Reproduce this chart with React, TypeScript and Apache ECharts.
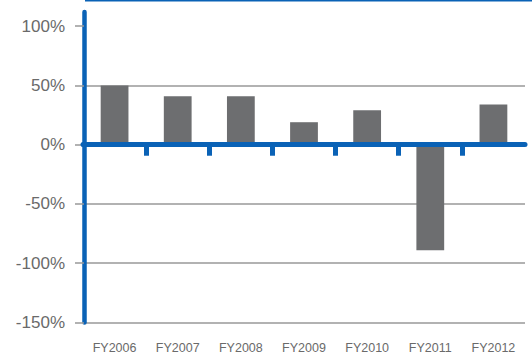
import React, { useEffect, useRef } from "react";
import * as echarts from "echarts";

const categories = ["FY2006", "FY2007", "FY2008", "FY2009", "FY2010", "FY2011", "FY2012"];
const values = [50, 41, 41, 19, 29, -89, 34];
const yTicks = [-150, -100, -50, 0, 50, 100];
const boundaryTicks = [1, 2, 3, 4, 5, 6];

const BLUE = "#0a62b6";
const GRAY_BAR = "#6d6e70";
const TEXT = "#6a6a6a";
const GRID = "#999999";

export default function App() {
  const ref = useRef<HTMLDivElement>(null);
  useEffect(() => {
    if (!ref.current) return;
    const chart = echarts.init(ref.current, undefined, { renderer: "svg" });
    chart.setOption({
      animation: false,
      backgroundColor: "#ffffff",
      textStyle: { fontFamily: "Liberation Sans, Arial, sans-serif" },
      grid: { left: 83, right: 7, top: 12, bottom: 32.5, containLabel: false },
      graphic: [
        {
          type: "rect",
          shape: { x: 85, y: 0, width: 447, height: 1.5 },
          style: { fill: BLUE },
          silent: true,
        },
      ],
      xAxis: [
        {
          type: "category",
          data: categories,
          position: "bottom",
          axisLine: { show: false, onZero: false },
          axisTick: { show: false },
          axisLabel: { color: TEXT, fontSize: 12.5, margin: 18.5 },
          splitLine: { show: false },
        },
        {
          type: "value",
          min: 0,
          max: 7,
          interval: 1,
          position: "bottom",
          axisLine: { show: true, onZero: true, onZeroAxisIndex: 0, lineStyle: { color: BLUE, width: 5 } },
          axisTick: { show: true, customValues: boundaryTicks, length: 11, lineStyle: { color: BLUE, width: 5 } },
          axisLabel: { show: false },
          splitLine: { show: false },
          z: 5,
        },
      ],
      yAxis: {
        type: "value",
        min: -150,
        max: 112,
        interval: 50,
        offset: -1,
        axisLine: { show: true, onZero: false, lineStyle: { color: BLUE, width: 4.5 } },
        axisTick: { show: true, customValues: yTicks, length: 9, lineStyle: { color: GRID, width: 1.5 } },
        axisLabel: {
          customValues: yTicks,
          color: TEXT,
          fontSize: 17,
          margin: 19,
          formatter: (v: number) => `${v}%`,
        },
        splitLine: { show: true, showMaxLine: false, lineStyle: { color: GRID, width: 1.5 } },
      },
      series: [
        {
          type: "bar",
          xAxisIndex: 0,
          yAxisIndex: 0,
          data: values,
          barWidth: "44%",
          itemStyle: { color: GRAY_BAR },
          z: 2,
        },
      ],
    });
    return () => chart.dispose();
  }, []);
  return (
    <div
      ref={ref}
      style={{ position: "fixed", left: 0, top: 0, width: 532, height: 355, background: "#fff" }}
    />
  );
}
